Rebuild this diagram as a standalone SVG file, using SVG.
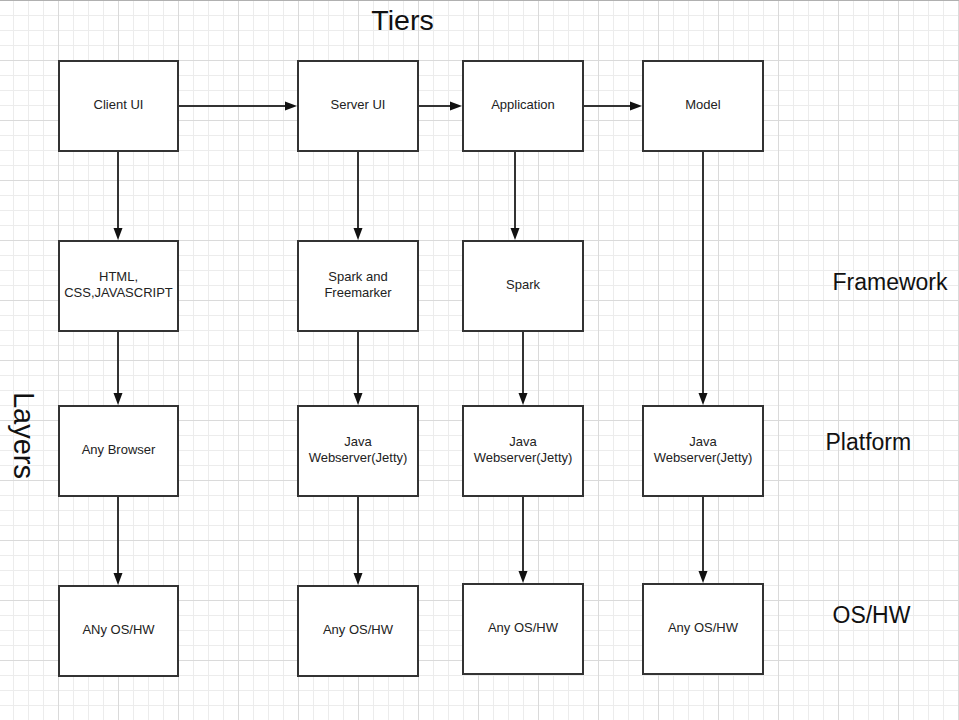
<svg xmlns="http://www.w3.org/2000/svg" width="959" height="720" viewBox="0 0 959 720">
<style>
.box{fill:#fff;stroke:#333;stroke-width:2}
.lbl{font-family:"Liberation Sans",Arial,sans-serif;font-size:13px;fill:#222;text-anchor:middle}
.big{font-family:"Liberation Sans",Arial,sans-serif;fill:#111}
.conn{fill:none;stroke:#333;stroke-width:2}
</style>
<defs>
<pattern id="minor" patternUnits="userSpaceOnUse" x="-2" y="0" width="15" height="15">
<rect width="15" height="15" fill="#fff"/>
<rect width="1" height="15" fill="#ececec"/>
<rect width="15" height="1" fill="#ececec"/>
</pattern>
<pattern id="major" patternUnits="userSpaceOnUse" x="-2" y="0" width="60" height="60">
<rect width="1" height="60" fill="#dadada"/>
<rect width="60" height="1" fill="#dadada"/>
</pattern>
<marker id="arr" markerUnits="userSpaceOnUse" markerWidth="12" markerHeight="10" refX="6" refY="4.5" orient="auto" viewBox="0 0 12 9">
<path d="M0,0 L12,4.5 L0,9 Z" fill="#111"/>
</marker>
</defs>
<g id="background">
<rect width="959" height="720" fill="url(#minor)"/>
<rect width="959" height="720" fill="url(#major)"/>
<rect width="959" height="1" fill="#b0b0b0"/>
</g>
<g id="titles">
<text class="big" x="402.5" y="29.5" font-size="28.5" text-anchor="middle">Tiers</text>
<text class="big" font-size="29" text-anchor="middle" transform="translate(13.5,435.5) rotate(90)">Layers</text>
<text class="big" x="832.5" y="290" font-size="23">Framework</text>
<text class="big" x="825.5" y="450" font-size="23">Platform</text>
<text class="big" x="832.5" y="622.5" font-size="23">OS/HW</text>
</g>
<g id="connectors">
<line class="conn" x1="179" y1="106" x2="291" y2="106" marker-end="url(#arr)"/>
<line class="conn" x1="419" y1="106" x2="456" y2="106" marker-end="url(#arr)"/>
<line class="conn" x1="584" y1="106" x2="636" y2="106" marker-end="url(#arr)"/>
<line class="conn" x1="118" y1="151" x2="118" y2="234" marker-end="url(#arr)"/>
<line class="conn" x1="358" y1="151" x2="358" y2="234" marker-end="url(#arr)"/>
<line class="conn" x1="515" y1="151" x2="515" y2="234" marker-end="url(#arr)"/>
<line class="conn" x1="703" y1="151" x2="703" y2="399" marker-end="url(#arr)"/>
<line class="conn" x1="118" y1="331" x2="118" y2="399" marker-end="url(#arr)"/>
<line class="conn" x1="358" y1="331" x2="358" y2="399" marker-end="url(#arr)"/>
<line class="conn" x1="523" y1="331" x2="523" y2="399" marker-end="url(#arr)"/>
<line class="conn" x1="118" y1="496" x2="118" y2="579" marker-end="url(#arr)"/>
<line class="conn" x1="358" y1="496" x2="358" y2="579" marker-end="url(#arr)"/>
<line class="conn" x1="523" y1="496" x2="523" y2="577" marker-end="url(#arr)"/>
<line class="conn" x1="703" y1="496" x2="703" y2="577" marker-end="url(#arr)"/>
</g>
<g id="client-ui"><rect class="box" x="59" y="61" width="119" height="90"/><text class="lbl" x="118.5" y="109">Client UI</text></g>
<g id="server-ui"><rect class="box" x="298" y="61" width="120" height="90"/><text class="lbl" x="358" y="109">Server UI</text></g>
<g id="application"><rect class="box" x="463" y="61" width="120" height="90"/><text class="lbl" x="523" y="109">Application</text></g>
<g id="model"><rect class="box" x="643" y="61" width="120" height="90"/><text class="lbl" x="703" y="109">Model</text></g>
<g id="html-css-js"><rect class="box" x="59" y="241" width="119" height="90"/><text class="lbl" x="118.5" y="281">HTML,</text><text class="lbl" x="118.5" y="297">CSS,JAVASCRIPT</text></g>
<g id="spark-freemarker"><rect class="box" x="298" y="241" width="120" height="90"/><text class="lbl" x="358" y="281">Spark and</text><text class="lbl" x="358" y="297">Freemarker</text></g>
<g id="spark"><rect class="box" x="463" y="241" width="120" height="90"/><text class="lbl" x="523" y="289">Spark</text></g>
<g id="any-browser"><rect class="box" x="59" y="406" width="119" height="90"/><text class="lbl" x="118.5" y="454">Any Browser</text></g>
<g id="java-server-ui"><rect class="box" x="298" y="406" width="120" height="90"/><text class="lbl" x="358" y="446">Java</text><text class="lbl" x="358" y="462">Webserver(Jetty)</text></g>
<g id="java-application"><rect class="box" x="463" y="406" width="120" height="90"/><text class="lbl" x="523" y="446">Java</text><text class="lbl" x="523" y="462">Webserver(Jetty)</text></g>
<g id="java-model"><rect class="box" x="643" y="406" width="120" height="90"/><text class="lbl" x="703" y="446">Java</text><text class="lbl" x="703" y="462">Webserver(Jetty)</text></g>
<g id="os-client"><rect class="box" x="59" y="586" width="119" height="90"/><text class="lbl" x="118.5" y="634">ANy OS/HW</text></g>
<g id="os-server-ui"><rect class="box" x="298" y="586" width="120" height="90"/><text class="lbl" x="358" y="634">Any OS/HW</text></g>
<g id="os-application"><rect class="box" x="463" y="584" width="120" height="90"/><text class="lbl" x="523" y="632">Any OS/HW</text></g>
<g id="os-model"><rect class="box" x="643" y="584" width="120" height="90"/><text class="lbl" x="703" y="632">Any OS/HW</text></g>
</svg>
